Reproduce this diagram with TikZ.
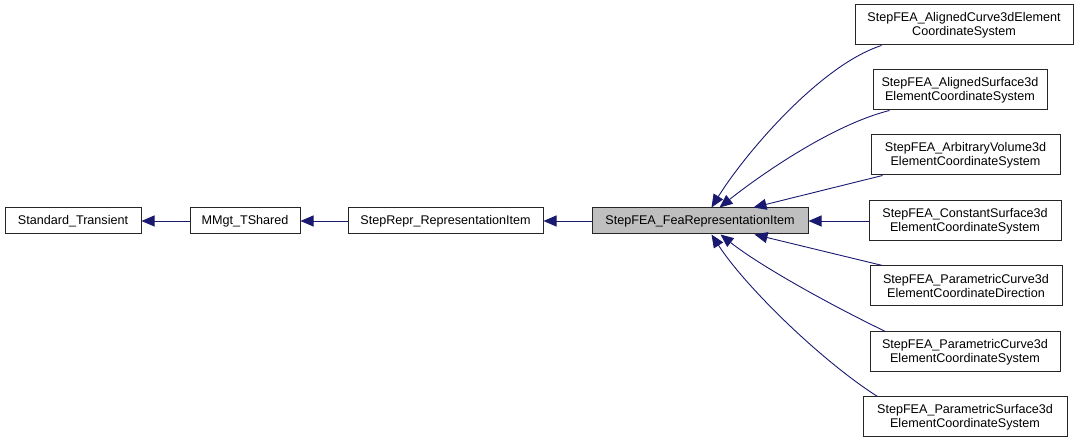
\documentclass[tikz,border=0pt]{standalone}
\usepackage{fontspec}
\setmainfont{Liberation Sans}
\usetikzlibrary{arrows.meta}
\definecolor{edgeblue}{HTML}{191970}
\definecolor{feagray}{HTML}{BFBFBF}
\begin{document}
\begin{tikzpicture}[x=1pt,y=-1pt,
  box/.style={draw=black!85,line width=1pt,fill=white,inner sep=0pt,align=center,
    font=\fontsize{12.6}{14.5}\selectfont,minimum height=26pt},
  cbox/.style={box,minimum height=40pt},
  edge/.style={draw=edgeblue,line width=0.9pt,{Triangle[length=13pt,width=11pt]}-}]
\useasboundingbox (0,0) rectangle (1080,443);
\node[box,minimum width=136pt] (st) at (73,221) {Standard\_Transient};
\node[box,minimum width=110pt] (mm) at (245,221) {MMgt\_TShared};
\node[box,minimum width=195pt] (sr) at (445.5,221) {StepRepr\_RepresentationItem};
\node[box,minimum width=216pt,fill=feagray] (fea) at (700,221) {StepFEA\_FeaRepresentationItem};
\node[cbox,minimum width=218pt] (b1) at (964,25) {StepFEA\_AlignedCurve3dElement\\CoordinateSystem};
\node[cbox,minimum width=174pt] (b2) at (960,90) {StepFEA\_AlignedSurface3d\\ElementCoordinateSystem};
\node[cbox,minimum width=189pt] (b3) at (965.5,155) {StepFEA\_ArbitraryVolume3d\\ElementCoordinateSystem};
\node[cbox,minimum width=192pt] (b4) at (965,221) {StepFEA\_ConstantSurface3d\\ElementCoordinateSystem};
\node[cbox,minimum width=192pt] (b5) at (966,286) {StepFEA\_ParametricCurve3d\\ElementCoordinateDirection};
\node[cbox,minimum width=190pt] (b6) at (965,352) {StepFEA\_ParametricCurve3d\\ElementCoordinateSystem};
\node[cbox,minimum width=204pt] (b7) at (965,417) {StepFEA\_ParametricSurface3d\\ElementCoordinateSystem};
\draw[edge] (st) -- (mm);
\draw[edge] (mm) -- (sr);
\draw[edge] (sr) -- (fea);
\draw[edge] ([xshift=120pt]fea.north west) .. controls +(33,-53) and +(-62,20) .. ([xshift=27pt]b1.south west);
\draw[edge] ([xshift=128pt]fea.north west) .. controls +(35,-28) and +(-60,15) .. ([xshift=17pt]b2.south west);
\draw[edge] ([xshift=162pt]fea.north west) -- ([xshift=12pt]b3.south west);
\draw[edge] (fea) -- (b4);
\draw[edge] ([xshift=163pt]fea.south west) -- ([xshift=13pt]b5.north west);
\draw[edge] ([xshift=129pt]fea.south west) .. controls +(39,31) and +(-56,-27) .. ([xshift=16pt]b6.north west);
\draw[edge] ([xshift=120pt]fea.south west) .. controls +(33,51) and +(-58,-37) .. ([xshift=15pt]b7.north west);
\end{tikzpicture}
\end{document}
